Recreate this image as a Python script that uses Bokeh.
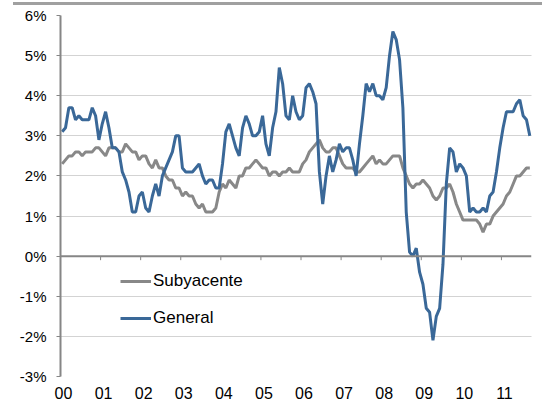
import numpy as np
from bokeh.plotting import figure
from bokeh.layouts import column
from bokeh.models import FixedTicker, Range1d, Legend, LegendItem, Span, Div
from bokeh.embed import file_html
from bokeh.resources import INLINE

# ---- data (monthly, year-on-year %, first value sits in the first month slot) ----
year_labels = ["00", "01", "02", "03", "04", "05", "06", "07", "08", "09", "10", "11"]

general = [
    3.1, 3.2, 3.7, 3.7, 3.4, 3.5, 3.4, 3.4, 3.4,
    3.7, 3.5, 2.9, 3.3, 3.6, 3.2, 2.7, 2.7, 2.6, 2.1, 1.9, 1.6,
    1.1, 1.1, 1.5, 1.6, 1.2, 1.1, 1.5, 1.8, 1.5, 2.0, 2.2, 2.4,
    2.6, 3.0, 3.0, 2.2, 2.1, 2.1, 2.1, 2.2, 2.3, 2.0, 1.8, 1.9,
    1.9, 1.7, 1.7, 2.3, 3.1, 3.3, 3.0, 2.7, 2.5, 3.2, 3.5, 3.3,
    3.0, 3.0, 3.1, 3.5, 2.8, 2.5, 3.2, 3.6, 4.7, 4.3, 3.5, 3.4,
    4.0, 3.6, 3.4, 3.5, 4.2, 4.3, 4.1, 3.8, 2.1, 1.3, 2.0, 2.5,
    2.1, 2.4, 2.8, 2.6, 2.7, 2.7, 2.4, 2.0, 2.8, 3.5, 4.3, 4.1,
    4.3, 4.0, 4.0, 3.9, 4.2, 5.0, 5.6, 5.4, 4.9, 3.7, 1.1, 0.1,
    0.0, 0.2, -0.4, -0.7, -1.3, -1.4, -2.1, -1.5, -1.3, -0.2, 1.8, 2.7,
    2.6, 2.1, 2.3, 2.2, 2.0, 1.1, 1.2, 1.1, 1.1, 1.2, 1.1, 1.5,
    1.6, 2.1, 2.7, 3.2, 3.6, 3.6, 3.6, 3.8, 3.9, 3.5, 3.4, 3.0,
]

subyacente = [
    2.3, 2.4, 2.5, 2.5, 2.6, 2.6, 2.5, 2.6, 2.6,
    2.6, 2.7, 2.7, 2.6, 2.5, 2.7, 2.7, 2.7, 2.6, 2.6, 2.8, 2.7,
    2.6, 2.6, 2.4, 2.5, 2.5, 2.3, 2.2, 2.4, 2.2, 2.2, 2.0, 1.9,
    1.9, 1.7, 1.7, 1.5, 1.6, 1.5, 1.5, 1.3, 1.2, 1.3, 1.1, 1.1,
    1.1, 1.2, 1.6, 1.8, 1.7, 1.9, 1.8, 1.7, 2.0, 2.0, 2.2, 2.2,
    2.3, 2.4, 2.3, 2.2, 2.2, 2.0, 2.1, 2.1, 2.0, 2.1, 2.1, 2.2,
    2.1, 2.1, 2.1, 2.3, 2.4, 2.6, 2.7, 2.8, 2.9, 2.7, 2.6, 2.6,
    2.7, 2.7, 2.5, 2.3, 2.2, 2.2, 2.2, 2.1, 2.1, 2.2, 2.3, 2.4,
    2.5, 2.3, 2.4, 2.3, 2.3, 2.4, 2.5, 2.5, 2.5, 2.2, 2.0, 1.8,
    1.7, 1.8, 1.8, 1.9, 1.8, 1.7, 1.5, 1.4, 1.5, 1.7, 1.7, 1.8,
    1.6, 1.3, 1.1, 0.9, 0.9, 0.9, 0.9, 0.9, 0.8, 0.6, 0.8, 0.8,
    1.0, 1.1, 1.2, 1.3, 1.5, 1.6, 1.8, 2.0, 2.0, 2.1, 2.2, 2.2,
]

y_ticks = [-3, -2, -1, 0, 1, 2, 3, 4, 5, 6]

n = len(general)
x = np.arange(n) + 0.5          # centre of each monthly slot
year_pos = [12 * k for k in range(len(year_labels))]

BLUE = "#3a6898"
GRAY = "#888888"
AXIS = "#868686"
FONT = "Liberation Sans"

p = figure(width=542, height=399, output_backend="svg", toolbar_location=None,
           x_range=Range1d(0, n), y_range=Range1d(-3, 6),
           min_border_left=60, min_border_right=11, min_border_top=10, min_border_bottom=28)
p.outline_line_color = None
p.background_fill_color = "white"
p.border_fill_color = "white"

# grid
p.xgrid.visible = False
p.ygrid.ticker = FixedTicker(ticks=[t for t in y_ticks if t != 0])
p.ygrid.grid_line_color = "#a6a6a6"
p.ygrid.grid_line_dash = "1 1"
p.ygrid.grid_line_width = 1

# zero line with downward ticks at each year start
p.add_layout(Span(location=0, dimension="width", line_color=AXIS, line_width=2))
p.segment(x0=year_pos[1:], x1=year_pos[1:], y0=[0] * (len(year_pos) - 1),
          y1=[-0.1] * (len(year_pos) - 1), line_color=AXIS, line_width=1)

r_sub = p.line(x, subyacente, line_color=GRAY, line_width=3)
r_gen = p.line(x, general, line_color=BLUE, line_width=3)

# y axis
p.yaxis.ticker = FixedTicker(ticks=y_ticks)
p.yaxis.major_label_overrides = {t: f"{t}%" for t in y_ticks}
p.yaxis.axis_line_color = AXIS
p.yaxis.axis_line_width = 2
p.yaxis.major_tick_line_color = AXIS
p.yaxis.major_tick_line_width = 1
p.yaxis.major_tick_in = 0
p.yaxis.major_tick_out = 4
p.yaxis.minor_tick_line_color = None
p.yaxis.major_label_standoff = 10
p.yaxis.major_label_text_font = FONT
p.yaxis.major_label_text_font_size = "15px"
p.yaxis.major_label_text_color = "#000000"

# bottom axis: labels only
p.xaxis.ticker = FixedTicker(ticks=[v + 0.9 for v in year_pos])
p.xaxis.major_label_overrides = {v + 0.9: lab for v, lab in zip(year_pos, year_labels)}
p.xaxis.axis_line_color = None
p.xaxis.major_tick_line_color = None
p.xaxis.minor_tick_line_color = None
p.xaxis.major_tick_in = 0
p.xaxis.major_tick_out = 0
p.xaxis.major_label_standoff = 10
p.xaxis.major_label_text_font = FONT
p.xaxis.major_label_text_font_size = "16px"
p.xaxis.major_label_text_color = "#000000"

legend = Legend(items=[LegendItem(label="Subyacente", renderers=[r_sub]),
                       LegendItem(label="General", renderers=[r_gen])],
                location=(60, 48), border_line_color=None, background_fill_alpha=0,
                padding=0, margin=0, spacing=17, glyph_width=31, glyph_height=20,
                label_height=20, label_standoff=2, label_text_font=FONT,
                label_text_font_size="17px", label_text_color="#000000")
p.add_layout(legend)

# thin gray rule across the top of the chart
top_rule = Div(
    text='<div style="position:absolute;left:13px;top:2px;width:529px;height:3px;'
         'background-color:#a0a0a0;"></div>',
    width=542, height=5, margin=0)

layout = column(top_rule, p, spacing=0)

open("out.html", "w").write(file_html(layout, INLINE))
